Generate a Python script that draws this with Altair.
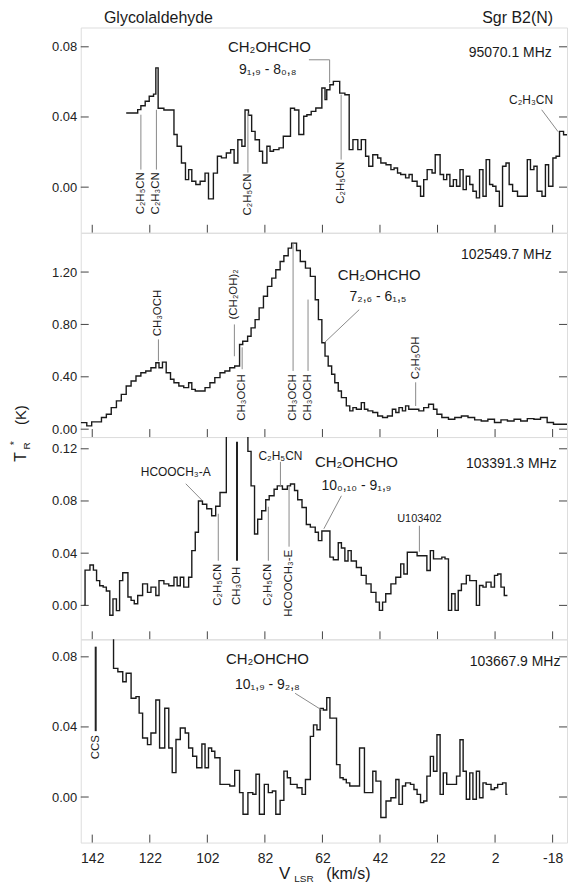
import altair as alt
import pandas as pd

FONT = "Liberation Sans"
W = 488
LEFT = 71
HEIGHTS = [206, 205, 203, 204]
X_DOMAIN = [-23, 146]
X_TICKS = [142, 122, 102, 82, 62, 42, 22, 2, -18]
Y_DOMAINS = [[-0.026, 0.091], [-0.06, 1.5], [-0.026, 0.129], [-0.026, 0.09]]
Y_TICKS = [[0, 0.04, 0.08], [0, 0.4, 0.8, 1.2], [0, 0.04, 0.08, 0.12], [0, 0.04, 0.08]]

# spectra: (V_LSR at channel start, T_R*)
spec1 = [(130.2, .0423), (126.2, .0442), (125.1, .0464), (123.6, .049), (122.2, .0518), (120.7, .053),
         (119.9, .068), (119.1, .045), (117.1, .044), (113.6, .030), (112.5, .0233), (111.0, .0138),
         (109.6, .0043), (108.5, .010), (107.4, .0034), (106.0, .0015), (104.5, .0034), (102.8, .008),
         (101.6, -.0067), (99.9, .008), (98.5, .0176), (97.1, .0167), (95.4, .0195), (93.9, .0214),
         (92.7, .0138), (91.4, .027), (90.0, .0233), (88.9, .044), (87.7, .041), (86.6, .0318),
         (85.4, .027), (83.9, .0205), (82.8, .0138), (81.3, .0233), (80.2, .0205), (79.0, .0214),
         (77.1, .0224), (75.6, .029), (73.1, .045), (71.7, .044), (70.2, .030), (68.5, .0404),
         (67.4, .0413), (65.9, .0432), (64.3, .0451), (62.2, .0565), (61.1, .0499), (60.5, .0555),
         (59.4, .0584), (58.2, .0603), (56.0, .0536), (54.2, .0527), (52.7, .0214), (51.4, .0271),
         (49.7, .0214), (48.5, .0271), (47.0, .0176), (45.9, .0119), (44.5, .0185), (42.8, .0166),
         (41.7, .0138), (39.9, .0128), (38.2, .0100), (37.1, .0109), (35.9, .0081), (34.8, .0072),
         (33.1, .0053), (31.9, .0072), (30.8, .0034), (29.1, .0005), (27.9, -.0052), (26.8, .0043),
         (25.6, .0100), (23.9, .0081), (22.8, .0185), (21.1, .0072), (19.9, .0043), (18.8, .0072),
         (17.7, .0005), (16.5, .0043), (15.4, .0005), (14.2, .0100), (13.1, -.0014), (12.0, .0062),
         (10.8, .0015), (9.7, -.0023), (8.5, -.0061), (7.4, .0100), (6.2, -.0052), (5.1, .0157),
         (3.9, .0015), (2.8, .0005), (1.7, -.0023), (0.5, -.0109), (-0.6, .0119), (-1.8, .0138),
         (-2.9, .0015), (-4.1, -.0023), (-5.8, -.0052), (-7.5, -.0052), (-9.2, .0157), (-10.3, .0100),
         (-11.5, .0119), (-12.6, -.0023), (-14.3, -.0052), (-15.5, .0128), (-16.6, .0005), (-18.1, .0166),
         (-19.2, .0176), (-20.4, .0318), (-21.8, .0299), (-23.0, .0299)]

spec2 = [(146.0, .05), (143.9, .025), (142.2, .056), (138.8, .089), (137.1, .114), (135.4, .165),
         (133.6, .216), (131.9, .266), (130.2, .330), (128.5, .368), (126.8, .406), (125.1, .431),
         (123.4, .444), (121.6, .469), (119.9, .507), (118.8, .469), (117.6, .512), (116.3, .431),
         (114.8, .381), (113.6, .355), (111.9, .330), (110.2, .317), (108.5, .355), (107.4, .304),
         (106.2, .292), (102.8, .317), (101.1, .355), (99.4, .394), (97.6, .431), (95.9, .444),
         (94.2, .469), (92.5, .482), (90.8, .647), (89.7, .672), (88.0, .710), (86.8, .774),
         (85.4, .837), (84.0, .926), (82.5, 1.015), (81.1, 1.091), (79.6, 1.154), (78.2, 1.218),
         (76.7, 1.281), (75.4, 1.324), (73.9, 1.383), (72.7, 1.421), (71.0, 1.365), (69.7, 1.281),
         (67.9, 1.230), (66.2, 1.167), (64.5, .989), (63.4, .837), (62.2, .66), (61.1, .558),
         (60.0, .482), (58.8, .419), (57.7, .355), (56.5, .292), (55.4, .241), (53.7, .178),
         (52.5, .140), (51.4, .165), (50.2, .152), (48.5, .203), (47.4, .152), (46.2, .140),
         (44.5, .127), (42.8, .101), (41.1, .089), (39.4, .101), (37.7, .152), (36.5, .127),
         (35.4, .165), (34.2, .140), (33.1, .178), (32.0, .152), (28.5, .140), (26.8, .165),
         (25.1, .19), (23.4, .152), (22.2, .114), (20.5, .089), (18.2, .076), (16.0, .089),
         (13.7, .101), (11.4, .089), (9.1, .071), (6.8, .063), (4.5, .076), (2.2, .051),
         (-0.05, .071), (-2.3, .063), (-4.6, .076), (-6.9, .063), (-9.2, .081), (-11.5, .076),
         (-13.8, .089), (-16.1, .051), (-18.3, .038), (-23.0, .038)]

spec3 = [(145.0, 0.0), (144.5, .027), (142.8, .031), (141.6, .027), (140.5, .019), (139.4, .015),
         (138.2, .014), (137.1, .011), (135.9, -.0076), (134.8, .005), (133.6, -.004), (132.5, .019),
         (131.4, .025), (129.6, .0064), (128.5, .0038), (127.4, .0013), (126.2, .0076), (124.5, .0165),
         (122.8, .010), (121.6, .014), (119.9, .0076), (118.8, .019), (117.1, .0165), (115.4, .015),
         (113.6, .0216), (112.5, .015), (111.4, .0216), (110.2, .014), (108.5, .0216), (107.4, .042),
         (106.2, .056), (105.1, .080), (103.7, .0775), (102.2, .074), (100.5, .0687), (99.1, .076),
         (97.6, .0865), (95.4, 0.2), (87.9, .118), (86.8, .0916), (85.6, .0547), (84.5, .066),
         (83.1, .0725), (81.7, .081), (80.5, .084), (78.8, .089), (77.7, .0916), (75.9, .089),
         (74.2, .0916), (73.1, .093), (71.7, .088), (70.6, .081), (69.1, .075), (67.6, .062),
         (66.2, .060), (64.5, .056), (63.4, .0496), (62.2, .057), (59.4, .037), (58.2, .035),
         (56.5, .048), (55.4, .044), (54.2, .034), (53.1, .042), (52.0, .034), (50.2, .029),
         (48.5, .023), (46.8, .0165), (45.1, .010), (43.4, .0025), (42.2, -.0038), (41.1, .0025),
         (40.0, .0089), (38.2, .0165), (36.5, .0216), (34.8, .0318), (33.7, .024), (32.5, .0407),
         (29.1, .038), (25.7, .0267), (24.5, .042), (23.4, .0356), (20.5, .037), (19.4, .0356),
         (18.2, -.0038), (17.1, .0089), (15.9, -.0038), (14.8, .0114), (13.7, .0165), (12.0, .023),
         (10.8, .019), (8.5, .0), (7.4, .0152), (6.2, .014), (5.1, .0178), (3.4, .014),
         (2.2, .023), (1.1, .024), (-0.05, .014), (-1.2, .0076), (-2.3, .0076)]

spec4 = [(136.0, 0.1), (134.6, .0734), (133.1, .0715), (131.4, .0658), (130.2, .0706), (128.5, .0564),
         (126.8, .0573), (125.7, .0479), (124.5, .0337), (122.8, .0299), (121.6, .0365), (119.9, .0554),
         (118.6, .028), (116.8, .0507), (115.4, .028), (114.2, .0139), (112.9, .0328), (111.4, .0394),
         (109.7, .0365), (108.5, .028), (107.1, .0233), (105.7, .0167), (103.9, .0303), (102.8, .0167),
         (101.6, .028), (100.5, .0261), (99.4, .0224), (97.6, .0072), (95.9, .0072), (94.2, .0063),
         (92.5, .0152), (90.8, .0025), (89.6, -.0098), (87.9, .0025), (86.2, .0016), (85.1, .013),
         (83.9, -.0098), (82.2, .0072), (80.8, .0025), (79.4, .0034), (78.2, -.0098), (76.7, -.0019),
         (75.4, .0148), (74.2, .011), (73.1, .0072), (70.8, .0053), (69.1, .0015), (67.9, .010),
         (66.2, .0346), (65.1, .0412), (63.9, .0384), (62.8, .0506), (61.7, .0497), (60.5, .0567),
         (59.4, .045), (57.1, .0185), (55.9, .011), (54.8, .010), (53.7, .0081), (52.5, .0063),
         (49.1, .028), (47.4, .0025), (44.5, .0147), (43.4, .0091), (41.7, -.0117), (39.9, -.0023),
         (38.2, -.0004), (36.5, .010), (35.4, -.0042), (34.2, .0063), (33.1, .0081), (31.4, .0072),
         (30.2, .0043), (29.1, .0015), (27.9, -.0032), (26.8, -.0023), (25.7, .0119), (24.5, .0232),
         (23.4, .0147), (22.2, .0355), (21.1, .0015), (20.0, .0138), (18.8, .0072), (15.4, .0119),
         (14.2, .0327), (13.1, .0147), (12.0, -.0013), (10.8, .0138), (9.7, -.0013), (8.5, .0147),
         (7.4, -.0004), (6.2, .0081), (5.1, .0072), (3.4, .0043), (2.2, .0053), (1.1, .0072),
         (-0.6, .0081), (-1.8, .0015), (-2.3, .0015)]

SPECTRA = [spec1, spec2, spec3, spec4]

# horizontal labels: (v, T, text, size, align)
LABELS = [
    [(80.4, 0.080, "CH₂OHCHO", 15, "center"), (81.0, 0.0669, "9₁,₉ - 8₀,₈", 14, "center"),
     (-17.7, 0.0766, "95070.1 MHz", 14, "right"), (-10.5, 0.0498, "C₂H₃CN", 12, "center")],
    [(-17.7, 1.331, "102549.7 MHz", 14, "right"), (42.3, 1.18, "CH₂OHCHO", 15, "center"),
     (42.7, 1.012, "7₂,₆ - 6₁,₅", 14, "center")],
    [(-19.4, 0.1085, "103391.3 MHz", 14, "right"), (50.2, 0.110, "CH₂OHCHO", 15, "center"),
     (50.2, 0.0917, "10₀,₁₀ - 9₁,₉", 14, "center"), (28.3, 0.0664, "U103402", 11, "center"),
     (113.0, 0.1024, "HCOOCH₃-A", 12, "center"), (76.6, 0.1146, "C₂H₅CN", 12, "center")],
    [(-20.7, 0.0773, "103667.9 MHz", 14, "right"), (81.1, 0.079, "CH₂OHCHO", 15, "center"),
     (81.1, 0.0637, "10₁,₉ - 9₂,₈", 14, "center")],
]
# rotated labels: (v, T, text, align)  right = hangs below anchor, left = rises above
ROT_LABELS = [
    [(125.1, 0.0085, "C₂H₅CN", "right"), (119.7, 0.0085, "C₂H₃CN", "right"),
     (87.9, 0.0078, "C₂H₅CN", "right"), (55.5, 0.0145, "C₂H₅CN", "right")],
    [(119.0, 0.709, "CH₃OCH", "left"), (92.6, 0.838, "(CH₂OH)₂", "left"),
     (89.9, 0.42, "CH₃OCH", "right"), (72.2, 0.42, "CH₃OCH", "right"),
     (67.0, 0.42, "CH₃OCH", "right"), (29.6, 0.382, "C₂H₅OH", "left")],
    [(98.2, 0.032, "C₂H₅CN", "right"), (91.7, 0.0296, "CH₃OH", "right"),
     (80.8, 0.032, "C₂H₅CN", "right"), (73.6, 0.0426, "HCOOCH₃-E", "right")],
    [(140.8, 0.0354, "CCS", "right")],
]
# marker lines: (v, T, T2, colour, width)
MARKERS = [
    [(125.1, .0413, .010, "#8a8a8a", 1), (119.7, .0441, .010, "#8a8a8a", 1),
     (87.9, .0424, .0083, "#8a8a8a", 1), (55.5, .0527, .0157, "#8a8a8a", 1)],
    [(119.0, .519, .686, "#8a8a8a", 1), (92.6, .557, .80, "#8a8a8a", 1),
     (89.9, .625, .458, "#8a8a8a", 1), (72.2, 1.42, .445, "#8a8a8a", 1),
     (67.0, .99, .445, "#8a8a8a", 1), (29.6, .177, .358, "#8a8a8a", 1)],
    [(28.3, .061, .0411, "#8a8a8a", 1), (76.6, .110, .0909, "#8a8a8a", 1),
     (98.2, .0702, .0342, "#8a8a8a", 1), (80.8, .0756, .0342, "#8a8a8a", 1),
     (73.6, .0909, .045, "#8a8a8a", 1), (91.7, .1254, .0342, "#222222", 2)],
    [(140.8, .0858, .0376, "#222222", 2)],
]
# leader lines: (v, v2, T, T2)
LEADERS = [
    [(66.7, 59.5, .0726, .0726), (59.5, 59.5, .0726, .0595), (-14.2, -19.9, .0441, .0316)],
    [(49.2, 61.2, .913, .663)],
    [(55.4, 61.5, .084, .0587), (109.5, 103.7, .0932, .0802)],
    [(71.5, 62.2, .0592, .0496)],
]
# x-axis title pieces: (v, text, size, pixel offset below bottom panel top)
X_TITLE = [(75.1, "V", 17, 236), (68.4, "LSR", 10, 241), (53.0, "(km/s)", 16, 236)]


def make_panel(k):
    H = HEIGHTS[k]
    bottom = (k == 3)
    xs = alt.Scale(domain=X_DOMAIN, reverse=True, nice=False, zero=False)
    ys = alt.Scale(domain=Y_DOMAINS[k], nice=False, zero=False)
    if bottom:
        xaxis = alt.Axis(values=X_TICKS, ticks=False, domain=False, grid=False, labelPadding=9,
                         labelFontSize=14, labelExpr="toString(datum.value)", title=None,
                         labelFont=FONT, labelColor="#222")
    else:
        xaxis = None
    yaxis = alt.Axis(values=Y_TICKS[k], format=".2f", ticks=False, domain=False, grid=False,
                     labelPadding=4, labelFontSize=13, title=None, minExtent=LEFT, maxExtent=LEFT,
                     labelFont=FONT, labelColor="#222")
    X = alt.X("v:Q", scale=xs, axis=xaxis)
    Y = alt.Y("T:Q", scale=ys, axis=yaxis)

    spec = pd.DataFrame([{"i": i, "v": v, "T": t} for i, (v, t) in enumerate(SPECTRA[k])])
    layers = [alt.Chart(spec).mark_line(interpolate="step-after", clip=True, color="#1a1a1a",
                                        strokeWidth=1.4).encode(x=X, y=Y, order="i:Q")]

    yt = pd.DataFrame({"T": Y_TICKS[k]})
    layers.append(alt.Chart(yt).mark_rule(color="#444", strokeWidth=1).encode(
        y=Y, x=alt.value(0), x2=alt.value(8)))
    layers.append(alt.Chart(yt).mark_rule(color="#444", strokeWidth=1).encode(
        y=Y, x=alt.value(W - 8), x2=alt.value(W)))
    xt = pd.DataFrame({"v": X_TICKS})
    layers.append(alt.Chart(xt).mark_rule(color="#444", strokeWidth=1).encode(
        x=X, y=alt.value(H), y2=alt.value(H - 8)))

    mk = pd.DataFrame([{"v": v, "T": t, "T2": t2, "c": c, "w": w} for v, t, t2, c, w in MARKERS[k]])
    for (c, w), g in mk.groupby(["c", "w"]):
        layers.append(alt.Chart(g).mark_rule(color=c, strokeWidth=float(w)).encode(
            x=X, y=Y, y2="T2:Q"))
    ld = pd.DataFrame([{"v": v, "v2": v2, "T": t, "T2": t2} for v, v2, t, t2 in LEADERS[k]])
    layers.append(alt.Chart(ld).mark_rule(color="#8a8a8a", strokeWidth=1).encode(
        x=X, x2="v2:Q", y=Y, y2="T2:Q"))

    for v, t, txt, size, align in LABELS[k]:
        d = pd.DataFrame([{"v": v, "T": t, "txt": txt}])
        layers.append(alt.Chart(d).mark_text(font=FONT, fontSize=size, align=align,
                                             baseline="middle", color="#1a1a1a").encode(
            x=X, y=Y, text="txt:N"))
    for v, t, txt, align in ROT_LABELS[k]:
        d = pd.DataFrame([{"v": v, "T": t, "txt": txt}])
        layers.append(alt.Chart(d).mark_text(font=FONT, fontSize=11.5, align=align, angle=270,
                                             baseline="middle", color="#1a1a1a").encode(
            x=X, y=Y, text="txt:N"))

    def pix_text(txt, px, py, size, align="center", angle=0):
        d = pd.DataFrame({"txt": [txt]})
        kw = dict(font=FONT, fontSize=size, align=align, baseline="middle", color="#1a1a1a")
        if angle:
            kw["angle"] = angle
        return alt.Chart(d).mark_text(**kw).encode(x=alt.value(px), y=alt.value(py), text="txt:N")

    if k == 0:
        layers.append(pix_text("Glycolaldehyde", 78, -9.5, 16))
        layers.append(pix_text("Sgr B2(N)", W - 14, -9.5, 16, "right"))
    if k == 2:
        layers.append(pix_text("T", -60, 20, 16, angle=270))
        layers.append(pix_text("R", -54, 9, 10, angle=270))
        layers.append(pix_text("*", -66, 6, 11, angle=270))
        layers.append(pix_text("(K)", -60, -22, 15, angle=270))
    if bottom:
        for v, txt, size, py in X_TITLE:
            d = pd.DataFrame([{"v": v, "txt": txt}])
            layers.append(alt.Chart(d).mark_text(font=FONT, fontSize=size, align="center",
                                                 baseline="middle", color="#1a1a1a").encode(
                x=X, y=alt.value(py), text="txt:N"))

    return alt.layer(*layers).properties(width=W, height=H)


chart = alt.vconcat(*[make_panel(k) for k in range(4)], spacing=0, bounds="flush",
                    padding=0).configure_view(
    stroke="#555", strokeWidth=1.5).configure(background="white")

chart.save("out.html", embed_options={"renderer": "svg", "actions": False})
